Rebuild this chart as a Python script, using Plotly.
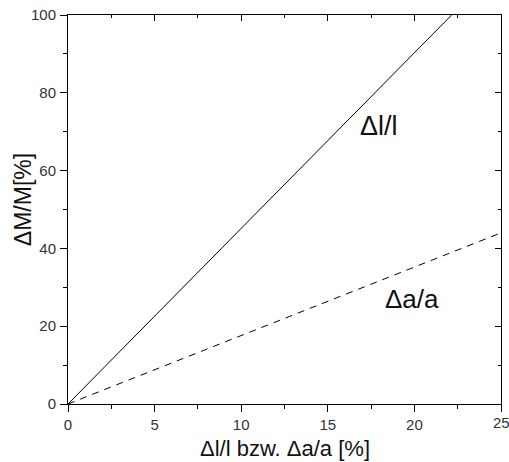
import plotly.graph_objects as go

# data
dl_x = [0, 22.15]
dl_y = [0, 100]
da_x = [0, 25]
da_y = [0, 44]
x_ticks = [0, 5, 10, 15, 20, 25]
x_labels = ["0", "5", "10", "15", "20", ""]
y_ticks = [0, 20, 40, 60, 80, 100]

font = "Liberation Sans, Arial, sans-serif"

fig = go.Figure()
fig.add_trace(go.Scatter(x=dl_x, y=dl_y, mode="lines",
                         line=dict(color="black", width=1), showlegend=False))
fig.add_trace(go.Scatter(x=da_x, y=da_y, mode="lines",
                         line=dict(color="black", width=1, dash="7px,6px"), showlegend=False))

# labels
fig.add_annotation(x=17.96, y=71.5, text="Δl/l", showarrow=False,
                   font=dict(family=font, size=27, color="#111"))
fig.add_annotation(x=19.86, y=27, text="Δa/a", showarrow=False,
                   font=dict(family=font, size=26, color="#111"))

# last x tick label, clipped by the page edge as in the reference
fig.add_annotation(x=x_ticks[-1], xref="x", yref="paper", y=0, yshift=-18, yanchor="middle",
                   text="25", showarrow=False, font=dict(family=font, size=15, color="#333"))

# axis titles
fig.add_annotation(xref="paper", yref="paper", x=0.501, y=0, yshift=-44, yanchor="middle",
                   text="Δl/l bzw. Δa/a [%]", showarrow=False,
                   font=dict(family=font, size=22, color="#111"))
fig.add_annotation(xref="paper", yref="paper", x=0, xshift=-45, y=0.524, xanchor="center",
                   yanchor="middle", textangle=-90,
                   text="ΔM/M[%]", showarrow=False,
                   font=dict(family=font, size=23, color="#111"))

axis_common = dict(showgrid=False, zeroline=False, linecolor="black", linewidth=1,
                   automargin=False)

fig.update_layout(
    width=509, height=462,
    margin=dict(l=68, r=8, t=15, b=58),
    plot_bgcolor="white", paper_bgcolor="white",
    font=dict(family=font, color="#222"),
    xaxis=dict(range=[0, 25], tickvals=x_ticks, ticktext=x_labels, ticks="outside", ticklen=7,
               tickcolor="black",
               minor=dict(ticks="outside", ticklen=4, dtick=2.5, tick0=0, tickcolor="black"),
               tickfont=dict(size=15, color="#333"), ticklabelstandoff=0,
               **axis_common),
    yaxis=dict(range=[0, 100], tickvals=y_ticks, ticks="outside", ticklen=7, tickcolor="black",
               minor=dict(ticks="outside", ticklen=4, dtick=10, tick0=0, tickcolor="black"),
               tickfont=dict(size=15, color="#333"), ticklabelstandoff=1,
               **axis_common),
    xaxis2=dict(range=[0, 25], overlaying="x", side="top", tickvals=x_ticks, ticks="inside",
                ticklen=6, tickcolor="black", showticklabels=False,
                minor=dict(ticks="inside", ticklen=3, dtick=2.5, tick0=0, tickcolor="black"),
                **axis_common),
    yaxis2=dict(range=[0, 100], overlaying="y", side="right", tickvals=y_ticks, ticks="inside",
                ticklen=6, tickcolor="black", showticklabels=False,
                minor=dict(ticks="inside", ticklen=3, dtick=10, tick0=0, tickcolor="black"),
                **axis_common),
)
# invisible trace to activate secondary axes
fig.add_trace(go.Scatter(x=[0], y=[0], xaxis="x2", yaxis="y2", mode="markers",
                         marker=dict(opacity=0), showlegend=False, hoverinfo="skip"))

fig.write_html("out.html")
